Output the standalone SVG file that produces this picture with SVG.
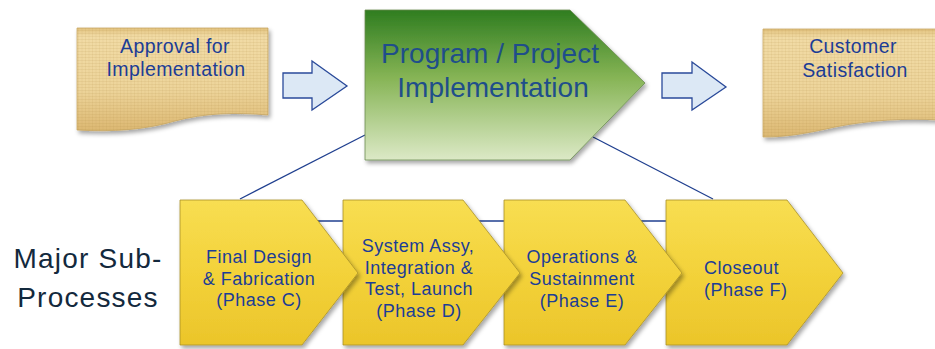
<svg xmlns="http://www.w3.org/2000/svg" width="935" height="349" viewBox="0 0 935 349">
<style>
.lbl{font-family:"Liberation Sans",Arial,sans-serif;fill:#1c3d96;text-anchor:middle}
.box{font-size:19.5px;letter-spacing:0.4px}
.chv{font-size:18px;letter-spacing:0.5px}
.big{font-family:"Liberation Sans",Arial,sans-serif;font-size:28px;fill:#1f4e8a;text-anchor:middle}
.side{font-family:"Liberation Sans",Arial,sans-serif;font-size:28px;fill:#13293d;text-anchor:middle;letter-spacing:1.2px}
.conn{stroke:#1f3f8f;stroke-width:1.3;fill:none}
.blk{fill:#dce8f5;stroke:#2a4a9a;stroke-width:1.3}
.paper{fill:url(#paperG);stroke:#c9a865;stroke-width:0.8;filter:url(#sh)}
.tex{fill:url(#tex);stroke:none}
.chev{fill:url(#yelG);stroke:#a8902a;stroke-width:0.8;filter:url(#sh)}
</style>
<defs>
<filter id="sh" x="-10%" y="-10%" width="125%" height="130%">
<feDropShadow dx="2" dy="3" stdDeviation="2" flood-color="#000" flood-opacity="0.35"/>
</filter>
<linearGradient id="paperG" x1="0" y1="0" x2="0" y2="1">
<stop offset="0" stop-color="#e2c27e"/>
<stop offset="0.08" stop-color="#f1dba5"/>
<stop offset="0.6" stop-color="#edd49a"/>
<stop offset="1" stop-color="#dcb872"/>
</linearGradient>
<pattern id="tex" width="7" height="6" patternUnits="userSpaceOnUse">
<path d="M0,0.5H7M0,3.5H7" stroke="#b08a45" stroke-opacity="0.12" stroke-width="1"/>
<path d="M1.5,0V6M5,0V6" stroke="#b08a45" stroke-opacity="0.1" stroke-width="1"/>
</pattern>
<linearGradient id="grnG" x1="0" y1="0" x2="0" y2="1">
<stop offset="0" stop-color="#2f7d20"/>
<stop offset="0.45" stop-color="#86b455"/>
<stop offset="1" stop-color="#dce9c6"/>
</linearGradient>
<linearGradient id="yelG" x1="0" y1="0" x2="0" y2="1">
<stop offset="0" stop-color="#f8de52"/>
<stop offset="0.5" stop-color="#f3d23a"/>
<stop offset="1" stop-color="#ebc52a"/>
</linearGradient>
</defs>

<g id="connectors">
<line class="conn" x1="240" y1="199" x2="365" y2="135"/>
<line class="conn" x1="593" y1="137" x2="713" y2="199"/>
<line class="conn" x1="300" y1="221" x2="700" y2="221"/>
</g>

<g id="approval">
<path class="paper" d="M77,28 L268,28 L268,115 C235,112 205,113 175,121 C145,130 112,132 77,130 Z"/>
<path class="tex" d="M77,28 L268,28 L268,115 C235,112 205,113 175,121 C145,130 112,132 77,130 Z"/>
<text class="lbl box" x="175" y="53">Approval for</text>
<text class="lbl box" x="176" y="76">Implementation</text>
</g>

<g id="arrow1">
<path class="blk" d="M283,73 L312,73 L312,61 L347,86 L312,110 L312,98 L283,98 Z"/>
</g>

<g id="program">
<path d="M365,10 L570,10 L645,83 L570,160 L365,160 Z" fill="url(#grnG)" stroke="#6a8a50" stroke-width="0.8" filter="url(#sh)"/>
<text class="big" x="490" y="63">Program / Project</text>
<text class="big" x="493" y="97">Implementation</text>
</g>

<g id="arrow2">
<path class="blk" d="M662,73 L692,73 L692,62 L726,87 L692,110 L692,98 L662,98 Z"/>
</g>

<g id="customer">
<path class="paper" d="M763,29 L940,29 L940,120 C905,118 870,120 835,127 C805,134 785,137 763,137 Z"/>
<path class="tex" d="M763,29 L940,29 L940,120 C905,118 870,120 835,127 C805,134 785,137 763,137 Z"/>
<text class="lbl box" x="853" y="53">Customer</text>
<text class="lbl box" x="855" y="77">Satisfaction</text>
</g>

<g id="sideLabel">
<text class="side" x="88" y="268">Major Sub-</text>
<text class="side" x="88" y="307">Processes</text>
</g>

<g id="phaseF">
<path class="chev" d="M666,200 L787,200 L843,273 L787,345 L666,345 Z"/>
<text class="lbl chv" x="704" y="274" style="text-anchor:start">Closeout</text>
<text class="lbl chv" x="704" y="296" style="text-anchor:start">(Phase F)</text>
</g>

<g id="phaseE">
<path class="chev" d="M504,200 L625,200 L682,273 L625,345 L504,345 Z"/>
<text class="lbl chv" x="582" y="263">Operations &amp;</text>
<text class="lbl chv" x="582" y="285">Sustainment</text>
<text class="lbl chv" x="582" y="307">(Phase E)</text>
</g>

<g id="phaseD">
<path class="chev" d="M343,200 L463,200 L520,273 L463,345 L343,345 Z"/>
<text class="lbl chv" x="418" y="252">System Assy,</text>
<text class="lbl chv" x="419" y="274">Integration &amp;</text>
<text class="lbl chv" x="419" y="295">Test, Launch</text>
<text class="lbl chv" x="419" y="317">(Phase D)</text>
</g>

<g id="phaseC">
<path class="chev" d="M180,200 L302,200 L358,273 L302,345 L180,345 Z"/>
<text class="lbl chv" x="259" y="263">Final Design</text>
<text class="lbl chv" x="259" y="285">&amp; Fabrication</text>
<text class="lbl chv" x="259" y="306">(Phase C)</text>
</g>
</svg>
